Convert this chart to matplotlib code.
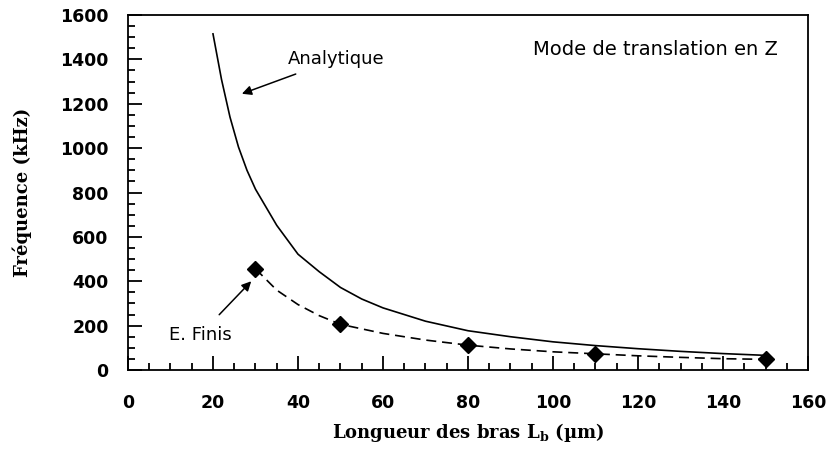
import matplotlib
matplotlib.use("Agg")
import matplotlib.pyplot as plt
from matplotlib.ticker import MultipleLocator

plt.rcParams['mathtext.fontset'] = 'custom'
plt.rcParams['mathtext.rm'] = 'DejaVu Serif:bold'
plt.rcParams['mathtext.bf'] = 'DejaVu Serif:bold'

# Analytical model (arm length in um, frequency in kHz)
L_analytic = [20, 22, 24, 26, 28, 30, 35, 40, 45, 50, 55, 60, 70, 80, 90,
              100, 110, 120, 130, 140, 150]
f_analytic = [1515, 1310, 1140, 1005, 900, 815, 652, 522, 443, 372, 320, 280,
              220, 177, 150, 127, 110, 96, 84, 74, 66]

# Finite element results and their trend line
L_fe = [30, 50, 80, 110, 150]
f_fe = [456, 206, 112, 74, 48]
L_fe_trend = [30, 35, 40, 45, 50, 60, 70, 80, 90, 100, 110, 120, 130, 140, 150]
f_fe_trend = [456, 360, 295, 245, 206, 165, 135, 112, 95, 82, 73, 64, 57, 51, 48]

fig = plt.figure(figsize=(8.30, 4.55), dpi=100)
ax = fig.add_axes([0.1542, 0.1868, 0.8193, 0.7802])

ax.plot(L_analytic, f_analytic, color='black', lw=1.2)
ax.plot(L_fe_trend, f_fe_trend, color='black', lw=1.2, dashes=(6, 3.5))
ax.plot(L_fe, f_fe, linestyle='none', marker='D', markersize=8,
        color='black')

ax.set_xlim(0, 160)
ax.set_ylim(0, 1600)
ax.xaxis.set_major_locator(MultipleLocator(20))
ax.xaxis.set_minor_locator(MultipleLocator(5))
ax.yaxis.set_major_locator(MultipleLocator(200))
ax.yaxis.set_minor_locator(MultipleLocator(50))
ax.tick_params(which='both', direction='in', top=False, right=False,
               width=1.3)
ax.tick_params(which='major', length=10)
ax.tick_params(which='minor', length=5)
ax.tick_params(axis='x', which='both', pad=17)
ax.tick_params(axis='y', which='both', pad=14)
for lab in ax.get_xticklabels() + ax.get_yticklabels():
    lab.set_fontfamily('DejaVu Sans')
    lab.set_fontweight('bold')
    lab.set_fontsize(12.5)
for sp in ax.spines.values():
    sp.set_linewidth(1.3)

ax.set_xlabel(r'Longueur des bras L$_{\mathbf{b}}$ (µm)', family='DejaVu Serif',
              weight='bold', fontsize=13, labelpad=7)
ax.set_ylabel('Fréquence (kHz)', family='DejaVu Serif', weight='bold',
              fontsize=13, labelpad=20)

ax.annotate('Analytique', xy=(26.8, 1245), xytext=(37.5, 1400),
            family='DejaVu Sans', fontsize=13, va='center', ha='left',
            arrowprops=dict(arrowstyle='-|>', color='black', lw=1.1,
                            mutation_scale=14, shrinkA=6, shrinkB=0))
ax.annotate('E. Finis', xy=(29, 400), xytext=(17, 160),
            family='DejaVu Sans', fontsize=13, va='center', ha='center',
            arrowprops=dict(arrowstyle='-|>', color='black', lw=1.1,
                            mutation_scale=14, shrinkA=8, shrinkB=0))
ax.text(0.955, 0.904, 'Mode de translation en Z', transform=ax.transAxes,
        family='DejaVu Sans', fontsize=14, ha='right', va='center')

fig.savefig('out.png', dpi=100)
